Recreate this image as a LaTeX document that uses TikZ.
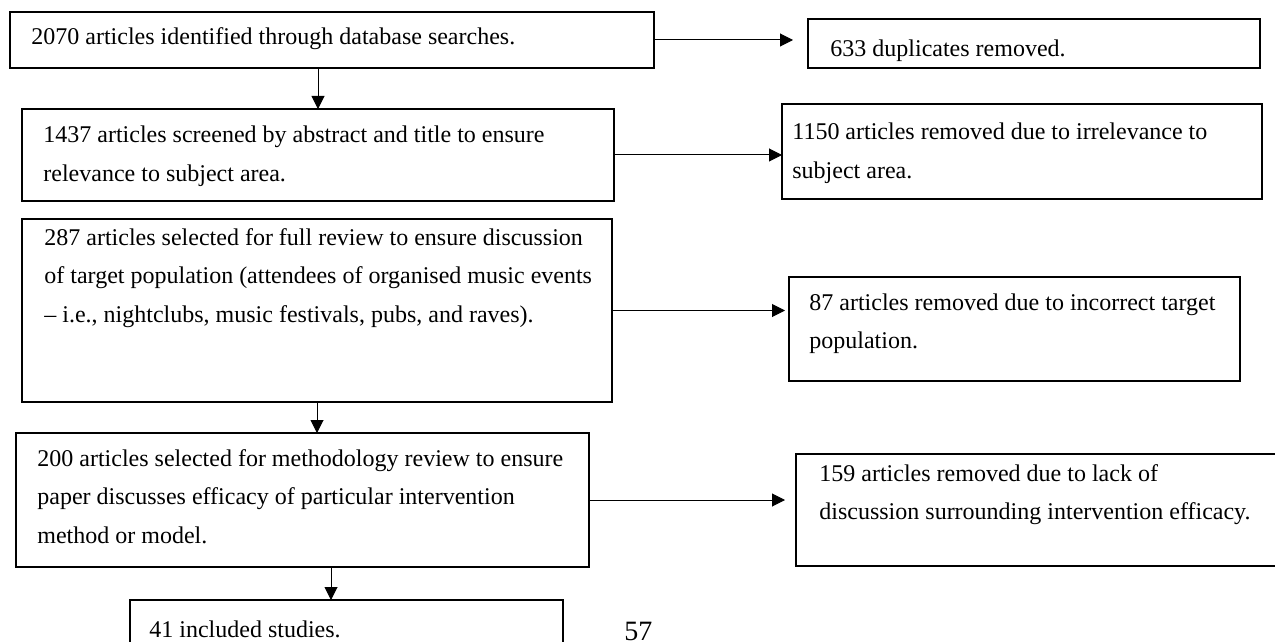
\documentclass[tikz,border=0pt]{standalone}
\usepackage{fontspec}
\setmainfont{Liberation Serif}
\usetikzlibrary{arrows.meta,calc}

% lines of one box, first baseline on the node's base
\newcommand{\stagelines}[1]{\begin{tabular}[t]{@{}l@{}}#1\end{tabular}}

\tikzset{
  stagebox/.style={draw=black,line width=0.75pt,anchor=north west,inner sep=0pt,outer sep=0pt},
  stagetext/.style={anchor=base west,inner sep=0pt,font=\fontsize{12}{19.25}\selectfont},
  flow/.style={line width=0.5pt,-{Triangle[length=6.5pt,width=6.5pt]}}
}

\begin{document}
\begin{tikzpicture}[x=0.5pt,y=-0.5pt]

\useasboundingbox (0,0) rectangle (1275,642);
\clip (0,0) rectangle (1275,642);

% ------------------------------------------------ main column
\node[stagebox,minimum width=322pt,minimum height=28pt]   (ident)  at (10,12)  {};
\node[stagebox,minimum width=296pt,minimum height=46pt]   (screen) at (22,109) {};
\node[stagebox,minimum width=295pt,minimum height=91.5pt] (full)   at (22,219) {};
\node[stagebox,minimum width=286.5pt,minimum height=67pt] (method) at (16,433) {};
\node[stagebox,minimum width=216.5pt,minimum height=40pt] (incl)   at (130,600) {};

\node[stagetext] (ident-t)  at ($(ident.north west)+(21,33)$)  {2070 articles identified through database searches.};
\node[stagetext] (screen-t) at ($(screen.north west)+(21,34)$) {\stagelines{1437 articles screened by abstract and title to ensure\\relevance to subject area.}};
\node[stagetext] (full-t)   at ($(full.north west)+(22,26)$)   {\stagelines{287 articles selected for full review to ensure discussion\\of target population (attendees of organised music events\\– i.e., nightclubs, music festivals, pubs, and raves).}};
\node[stagetext] (method-t) at ($(method.north west)+(21,33)$) {\stagelines{200 articles selected for methodology review to ensure\\paper discusses efficacy of particular intervention\\method or model.}};
\node[stagetext] (incl-t)   at ($(incl.north west)+(19,37)$)   {41 included studies.};

% ------------------------------------------------ removed column
\node[stagebox,minimum width=226pt,minimum height=24.5pt] (dup) at (808,19)  {};
\node[stagebox,minimum width=240pt,minimum height=47.5pt] (irr) at (782,104) {};
\node[stagebox,minimum width=225.5pt,minimum height=52pt] (pop) at (789,277) {};
\node[stagebox,minimum width=260pt,minimum height=56pt]   (eff) at (796,454) {};

\node[stagetext] (dup-t) at ($(dup.north west)+(22,38)$) {633 duplicates removed.};
\node[stagetext] (irr-t) at ($(irr.north west)+(10,36)$) {\stagelines{1150 articles removed due to irrelevance to\\subject area.}};
\node[stagetext] (pop-t) at ($(pop.north west)+(20,33)$) {\stagelines{87 articles removed due to incorrect target\\population.}};
\node[stagetext] (eff-t) at ($(eff.north west)+(23,27)$) {\stagelines{159 articles removed due to lack of\\discussion surrounding intervention efficacy.}};

% page number
\node[anchor=base west,inner sep=0pt,font=\fontsize{14}{16}\selectfont] (pagenum) at (624,640) {57};

% ------------------------------------------------ arrows
\draw[flow,shorten >=7.5pt] (ident.east) -- (ident.east -| dup.west);
\draw[flow] (screen.north |- ident.south) -- (screen.north);
\draw[flow] (screen.east) -- (screen.east -| irr.west);
\draw[flow,shorten >=2pt] (full.east) -- (full.east -| pop.west);
\draw[flow] (full.south) -- (full.south |- method.north);
\draw[flow,shorten >=5.5pt] (method.east) -- (method.east -| eff.west);
\draw[flow] ([xshift=157.5pt]method.south west) -- ([xshift=157.5pt]method.south west |- incl.north);

\end{tikzpicture}
\end{document}
